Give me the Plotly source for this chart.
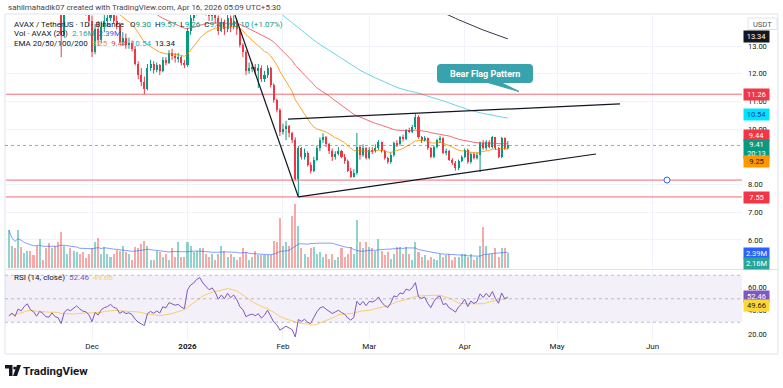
import plotly.graph_objects as go
import pandas as pd

W, H = 783, 388
FONT = "Roboto"

# ---------------- data ----------------
dates = pd.date_range("2025-11-04", "2026-04-15", freq="D")
first_open = 16.0

close_nov = [16.4, 16.7, 16.1, 16.9, 16.6, 17.1, 17.4, 16.5, 16.2, 15.4, 15.9, 15.6, 15.0, 14.9, 15.3, 14.7, 14.5, 13.4, 14.5, 14.8, 14.6, 14.9, 15.1, 14.7, 14.4, 14.3, 13.9]
high_nov = [16.9, 17.2, 16.9, 17.3, 17.1, 17.5, 17.9, 17.5, 16.8, 16.3, 16.2, 16.1, 15.7, 15.4, 15.6, 15.4, 15.0, 14.6, 14.7, 15.2, 15.0, 15.1, 15.5, 15.2, 14.9, 14.6, 14.5]
low_nov = [15.8, 16.1, 15.9, 16.0, 16.3, 16.4, 16.9, 16.3, 15.9, 15.2, 15.3, 15.4, 14.8, 14.5, 14.8, 14.5, 14.2, 12.6, 13.3, 14.3, 14.4, 14.5, 14.8, 14.5, 14.2, 14.1, 13.7]

close_dec = [12.8, 13.6, 13.2, 13.7, 13.9, 14.0, 14.2, 13.9, 13.75, 13.15, 13.3, 13.05, 13.1, 12.9, 12.35, 11.95, 11.7, 11.45, 12.2, 12.35, 12.15, 12.3, 12.1, 12.5, 12.4, 12.75, 12.65, 12.55, 12.6, 12.4, 12.3]
high_dec = [14.1, 13.8, 13.9, 13.9, 14.2, 14.3, 14.5, 14.4, 14.1, 13.85, 13.5, 13.45, 13.3, 13.2, 13.0, 12.45, 12.2, 11.9, 12.35, 12.5, 12.45, 12.4, 12.35, 12.6, 12.6, 12.85, 12.9, 12.75, 12.75, 12.65, 12.5]
low_dec = [12.6, 12.7, 13.0, 13.1, 13.5, 13.7, 13.9, 13.8, 13.6, 13.1, 13.0, 12.9, 12.9, 12.8, 12.3, 11.8, 11.55, 11.26, 11.4, 12.1, 12.0, 12.05, 11.95, 12.05, 12.3, 12.35, 12.5, 12.4, 12.4, 12.3, 12.2]

close_jan = [13.55, 14.0, 14.2, 14.6, 14.8, 14.5, 14.3, 14.1, 14.25, 14.0, 13.55, 13.85, 13.6, 14.0, 13.7, 13.9, 13.6, 13.05, 12.8, 12.1, 12.2, 12.25, 12.1, 12.2, 11.8, 11.95, 12.2, 11.6, 11.05, 10.7, 9.9]
high_jan = [13.65, 14.2, 14.4, 14.8, 15.0, 14.9, 14.6, 14.4, 14.4, 14.3, 14.1, 14.0, 13.95, 14.2, 14.1, 14.1, 14.0, 13.65, 13.1, 12.85, 12.4, 12.4, 12.35, 12.35, 12.3, 12.1, 12.3, 12.25, 11.65, 11.1, 10.75]
low_jan = [12.25, 13.4, 13.9, 14.1, 14.5, 14.3, 14.1, 13.9, 13.9, 13.8, 13.4, 13.5, 13.4, 13.5, 13.5, 13.6, 13.4, 12.95, 12.6, 11.95, 12.0, 12.05, 11.95, 11.48, 11.7, 11.7, 11.85, 11.5, 10.95, 10.6, 9.75]

close_feb = [10.0, 10.1, 9.85, 9.6, 8.2, 9.3, 9.0, 9.15, 8.7, 8.5, 8.9, 9.3, 9.6, 9.7, 9.45, 9.2, 9.0, 9.1, 9.2, 9.0, 8.85, 8.5, 8.27, 8.4, 9.35, 9.05, 9.3, 8.96]
high_feb = [10.2, 10.3, 10.15, 9.9, 9.7, 9.4, 9.35, 9.3, 9.2, 8.8, 9.0, 9.4, 9.7, 9.85, 9.75, 9.5, 9.3, 9.2, 9.35, 9.25, 9.1, 8.9, 8.6, 8.55, 9.86, 9.4, 9.45, 9.35]
low_feb = [9.8, 9.6, 9.7, 9.5, 8.15, 7.55, 8.9, 8.9, 8.65, 8.4, 8.45, 8.85, 9.2, 9.5, 9.35, 9.1, 8.85, 8.9, 9.05, 8.95, 8.75, 8.45, 8.24, 8.25, 8.35, 8.9, 9.0, 8.9]

close_mar = [9.25, 9.2, 9.3, 9.53, 9.2, 8.95, 8.8, 9.05, 9.5, 9.45, 9.7, 9.65, 9.97, 9.9, 10.08, 10.45, 9.7, 9.6, 9.68, 9.3, 9.0, 9.35, 9.6, 9.68, 9.15, 9.2, 8.9, 8.78, 8.6, 8.85, 9.0]
high_mar = [9.35, 9.35, 9.45, 9.6, 9.55, 9.25, 9.0, 9.15, 9.55, 9.6, 9.75, 9.8, 10.0, 10.05, 10.15, 10.55, 10.5, 9.75, 9.75, 9.7, 9.35, 9.4, 9.65, 9.75, 9.7, 9.3, 9.25, 8.95, 8.85, 8.9, 9.05]
low_mar = [8.9, 9.1, 9.15, 9.25, 9.15, 8.9, 8.75, 8.75, 9.0, 9.35, 9.4, 9.55, 9.6, 9.85, 9.85, 10.0, 9.65, 9.5, 9.55, 9.25, 8.95, 8.95, 9.3, 9.5, 9.1, 9.05, 8.85, 8.7, 8.5, 8.52, 8.8]

close_apr = [9.25, 8.8, 9.1, 8.95, 9.05, 9.5, 9.3, 9.55, 9.35, 9.7, 9.3, 9.0, 9.68, 9.30, 9.41]
high_apr = [9.3, 9.3, 9.15, 9.15, 9.15, 9.55, 9.6, 9.6, 9.6, 9.75, 9.72, 9.35, 9.72, 9.7, 9.57]
low_apr = [8.95, 8.75, 8.75, 8.9, 8.9, 8.45, 9.25, 9.25, 9.3, 9.3, 9.25, 8.95, 8.95, 9.25, 9.26]

volume_m = [5.4, 3.2, 2.8, 5.4, 3.0, 2.1, 2.5, 2.4, 1.8, 3.2,
            4.2, 1.2, 2.8, 3.6, 2.8, 3.2, 3.7, 5.2, 3.2, 2.0,
            2.8, 2.4, 2.3, 2.0, 2.3, 1.5, 2.0, 2.8, 3.7, 4.3,
            2.0, 3.0, 2.0, 1.6, 2.0, 2.6, 2.5, 3.2, 2.3, 2.0,
            1.2, 3.0, 2.8, 3.5, 3.9, 3.2, 1.1, 1.2, 2.5, 2.3,
            1.6, 2.0, 1.2, 2.8, 1.6, 3.7, 1.6, 1.6, 3.7, 3.2,
            2.3, 2.5, 2.8, 2.8, 2.0, 1.6, 2.0, 1.1, 2.0, 3.2,
            2.4, 1.6, 2.0, 1.6, 1.1, 1.6, 2.8, 2.3, 1.1, 1.6,
            2.5, 1.8, 1.8, 1.8, 1.8, 1.8, 3.9, 3.7, 7.1, 3.2,
            3.7, 3.2, 7.5, 9.1, 6.0, 2.8, 2.0, 1.6, 2.8, 3.0,
            2.0, 2.3, 1.6, 2.0, 1.3, 2.0, 1.1, 1.6, 2.8, 1.6,
            2.0, 3.0, 2.0, 6.8, 3.7, 2.8, 3.7, 3.0, 2.8, 2.5,
            4.2, 2.5, 1.8, 2.3, 1.3, 2.0, 3.0, 3.0, 2.0, 3.0,
            2.0, 1.1, 3.7, 2.3, 1.6, 1.8, 1.1, 1.6, 1.3, 1.1,
            2.0, 1.6, 1.8, 2.0, 1.1, 1.6, 1.6, 2.0, 2.0, 1.6,
            2.0, 1.1, 1.6, 3.2, 5.9, 3.2, 2.0, 2.0, 2.8, 1.6,
            2.8, 2.8, 2.16]

ema_periods = [20, 50, 100, 200]
ema_seeds = [16.8, 17.8, 19.3, 23.7]
ema_colors = ["#ff9800", "#f7525f", "#4dd0e1", "#131722"]
rsi_seed_gain, rsi_seed_loss = 0.20, 0.42

month_ticks = ["2025-12-01", "2026-01-01", "2026-02-01", "2026-03-01", "2026-04-01", "2026-05-01", "2026-06-01"]
month_labels = ["Dec", "<b>2026</b>", "Feb", "Mar", "Apr", "May", "Jun"]
price_ticks = [6, 7, 8, 10, 11, 12, 13]
rsi_ticks = [20, 40, 60]

# drawing tool anchors (date, price)
flagpole = [("2026-01-16 10:00", 14.12), ("2026-02-06 00:00", 7.55)]
flag_top = [("2026-02-02 15:00", 10.36), ("2026-05-21 10:00", 10.91)]
flag_bottom = [("2026-02-06 00:00", 7.55), ("2026-05-13 15:00", 9.10)]
levels = [11.26, 8.16, 7.55]
last_price = 9.41

# ---------------- derived ----------------
close = close_nov + close_dec + close_jan + close_feb + close_mar + close_apr
high = high_nov + high_dec + high_jan + high_feb + high_mar + high_apr
low = low_nov + low_dec + low_jan + low_feb + low_mar + low_apr
assert len(close) == len(dates) == len(high) == len(low) == len(volume_m)
open_ = [first_open] + close[:-1]
up = [c >= o for o, c in zip(open_, close)]


def ema(vals, n, seed):
    a = 2.0 / (n + 1)
    e = seed
    out = []
    for v in vals:
        e = a * v + (1 - a) * e
        out.append(e)
    return out


emas = [ema(close, n, s) for n, s in zip(ema_periods, ema_seeds)]

g, l = rsi_seed_gain, rsi_seed_loss
rsi = []
for o, c in zip(open_, close):
    d = c - o
    g = (g * 13 + max(d, 0)) / 14
    l = (l * 13 + max(-d, 0)) / 14
    rsi.append(100 - 100 / (1 + g / l))
rsi_ma = pd.Series(rsi).rolling(14, min_periods=1).mean().tolist()
vol_ma = pd.Series(volume_m).rolling(20, min_periods=1).mean().tolist()


# ---------------- geometry helpers ----------------
def fx(px):
    return px / W


def fy(py):
    return 1 - py / H


def price_at(py):
    return 13 - (py - 46) / 27.7


def rsi_at(py):
    return 60 - (py - 287) / 1.175


GREEN, RED = "#089981", "#f23645"
DAY = 86400000

fig = go.Figure()

# volume
fig.add_trace(go.Bar(x=dates, y=volume_m, width=0.66 * DAY,
                     marker=dict(color=["rgba(38,166,154,0.5)" if u else "rgba(239,83,80,0.5)" for u in up], line_width=0),
                     xaxis="x", yaxis="y2", hoverinfo="skip"))
fig.add_trace(go.Scatter(x=dates, y=vol_ma, mode="lines", line=dict(color="rgba(41,98,255,0.6)", width=1),
                         xaxis="x", yaxis="y2", hoverinfo="skip"))

# EMAs
for vals, col in zip(emas, ema_colors):
    fig.add_trace(go.Scatter(x=dates, y=vals, mode="lines", line=dict(color=col, width=1),
                             xaxis="x", yaxis="y", hoverinfo="skip", opacity=0.85))

# candles: wicks + bodies
for flag, col in ((True, GREEN), (False, RED)):
    wx, wy = [], []
    bx, bb, bh = [], [], []
    for d, o, h_, l_, c, u in zip(dates, open_, high, low, close, up):
        if u != flag:
            continue
        wx += [d, d, None]
        wy += [l_, h_, None]
        bx.append(d)
        bb.append(min(o, c))
        bh.append(max(abs(c - o), 0.02))
    fig.add_trace(go.Scatter(x=wx, y=wy, mode="lines", line=dict(color=col, width=1),
                             xaxis="x", yaxis="y", hoverinfo="skip"))
    fig.add_trace(go.Bar(x=bx, y=bh, base=bb, width=0.66 * DAY, marker=dict(color=col, line_width=0),
                         xaxis="x", yaxis="y", hoverinfo="skip"))

# RSI
fig.add_trace(go.Scatter(x=dates, y=rsi_ma, mode="lines", line=dict(color="#f9cf6a", width=1),
                         xaxis="x", yaxis="y3", hoverinfo="skip"))
fig.add_trace(go.Scatter(x=dates, y=rsi, mode="lines", line=dict(color="#7e57c2", width=1),
                         xaxis="x", yaxis="y3", hoverinfo="skip"))

shapes = []
# frame & pane divider
shapes.append(dict(type="rect", xref="paper", yref="paper", x0=fx(5), x1=fx(778), y0=fy(354), y1=fy(14),
                   line=dict(color="#e0e3eb", width=1), layer="below"))
shapes.append(dict(type="line", xref="paper", yref="paper", x0=fx(5), x1=fx(778), y0=fy(269.5), y1=fy(269.5),
                   line=dict(color="#e0e3eb", width=1)))
# RSI band
shapes.append(dict(type="rect", xref="paper", yref="y3", x0=fx(5), x1=fx(742), y0=30, y1=70,
                   fillcolor="rgba(126,87,194,0.09)", line_width=0, layer="below"))
for lv in (70, 50, 30):
    shapes.append(dict(type="line", xref="paper", yref="y3", x0=fx(5), x1=fx(742), y0=lv, y1=lv,
                       line=dict(color="rgba(120,123,134,0.45)", width=1, dash="dot")))
# horizontal levels
for lv in levels:
    shapes.append(dict(type="line", xref="paper", yref="y", x0=fx(6), x1=fx(742), y0=lv, y1=lv,
                       line=dict(color="rgba(242,54,69,0.75)", width=1)))
shapes.append(dict(type="circle", xref="paper", yref="y", x0=fx(664), x1=fx(670),
                   y0=levels[1] - 3 / 27.7, y1=levels[1] + 3 / 27.7,
                   fillcolor="white", line=dict(color="#2962ff", width=1)))
# last price dotted
shapes.append(dict(type="line", xref="paper", yref="y", x0=fx(5), x1=fx(742), y0=last_price, y1=last_price,
                   line=dict(color="rgba(8,153,129,0.6)", width=1, dash="dot")))
# pattern lines
for seg in (flagpole, flag_top, flag_bottom):
    shapes.append(dict(type="line", xref="x", yref="y", x0=seg[0][0], y0=seg[0][1], x1=seg[1][0], y1=seg[1][1],
                       line=dict(color="#131722", width=1.2)))
# callout box (rounded) + tail
TEAL = "#38a3ad"
bx0, bx1, by0, by1, r = 437, 533, 64, 83, 4
path = (f"M {fx(bx0+r)},{fy(by0)} L {fx(bx1-r)},{fy(by0)} Q {fx(bx1)},{fy(by0)} {fx(bx1)},{fy(by0+r)} "
        f"L {fx(bx1)},{fy(by1-r)} Q {fx(bx1)},{fy(by1)} {fx(bx1-r)},{fy(by1)} L {fx(bx0+r)},{fy(by1)} "
        f"Q {fx(bx0)},{fy(by1)} {fx(bx0)},{fy(by1-r)} L {fx(bx0)},{fy(by0+r)} Q {fx(bx0)},{fy(by0)} {fx(bx0+r)},{fy(by0)} Z")
shapes.append(dict(type="path", xref="paper", yref="paper", path=path, fillcolor=TEAL, line_width=0))
shapes.append(dict(type="path", xref="paper", yref="paper",
                   path=f"M {fx(486)},{fy(82)} L {fx(500)},{fy(82)} L {fx(519)},{fy(91.5)} Z",
                   fillcolor=TEAL, line=dict(color=TEAL, width=1)))
# USDT box
shapes.append(dict(type="rect", xref="paper", yref="paper", x0=fx(748), x1=fx(777), y0=fy(29.5), y1=fy(18),
                   line=dict(color="#e0e3eb", width=1), fillcolor="white"))
# TradingView logo glyph
shapes.append(dict(type="path", xref="paper", yref="paper",
                   path=f"M {fx(5)},{fy(365)} L {fx(12.5)},{fy(365)} L {fx(12.5)},{fy(376)} L {fx(9)},{fy(376)} L {fx(9)},{fy(368.5)} L {fx(5)},{fy(368.5)} Z",
                   fillcolor="#131722", line_width=0))
shapes.append(dict(type="circle", xref="paper", yref="paper", x0=fx(13.2), x1=fx(16.2), y0=fy(369.5), y1=fy(366.5),
                   fillcolor="#131722", line_width=0))
shapes.append(dict(type="path", xref="paper", yref="paper",
                   path=f"M {fx(17)},{fy(365)} L {fx(21)},{fy(365)} L {fx(17)},{fy(376)} L {fx(13)},{fy(376)} Z",
                   fillcolor="#131722", line_width=0))

ann = []


def txt(x, y, text, size=8, color="#131722", anchor="left", bold=False):
    ann.append(dict(x=fx(x), y=fy(y), xref="paper", yref="paper", text=(f"<b>{text}</b>" if bold else text),
                    showarrow=False, xanchor=anchor, yanchor="middle",
                    font=dict(family=FONT, size=size, color=color)))


def tag(y, text, bg, fg="white", h=9):
    ann.append(dict(x=fx(743), y=fy(y), xref="paper", yref="paper", text=text, showarrow=False,
                    xanchor="left", yanchor="middle", bgcolor=bg, width=23, height=h, borderpad=1,
                    align="center", font=dict(family=FONT, size=7.5, color=fg)))


def span(t, c):
    return f"<span style='color:{c}'>{t}</span>"


S = "&nbsp;"
txt(6, 7, "sahilmahadik07 created with TradingView.com, Apr 16, 2026 05:09 UTC+5:30", 8, "#434651")
txt(12, 24, "AVAX / TetherUS · 1D · Binance" + S * 3 + "O" + span("9.30", GREEN) + S * 2 + "H" + span("9.57", GREEN)
    + S * 2 + "L" + span("9.26", GREEN) + S * 2 + "C" + span("9.41", GREEN) + S * 2 + span("+0.10 (+1.07%)", GREEN), 8)
txt(12, 33.5, "Vol · AVAX (20)" + S * 2 + span("2.16M", "#26a69a") + S * 2 + span("2.39M", "#2962ff"), 8)
txt(12, 43, "EMA 20/50/100/200" + S * 2 + span("9.25", "#ff9800") + S * 2 + span("9.44", "#f23645") + S * 2
    + span("10.54", "#00bcd4") + S * 2 + span("13.34", "#131722"), 8)
txt(12, 277, "RSI (14, close)" + S * 2 + span("52.46", "#7e57c2") + S * 2 + span("49.66", "#f9cf6a"), 8)
txt(762.5, 24, "USDT", 7.5, "#50535e", anchor="center")
txt(485, 73.5, "Bear Flag Pattern", 9, "white", anchor="center", bold=True)
txt(21, 371, "TradingView", 11.5, "#131722", bold=True)

tag(36, "13.34", "#131722")
tag(94, "11.26", "#f23645")
tag(114, "10.54", "#00e5ff", "#0b3d91")
tag(135.5, "9.44", "#f23645")
ann.append(dict(x=fx(743), y=fy(149), xref="paper", yref="paper", text="9.41<br>20:13", showarrow=False,
                xanchor="left", yanchor="middle", bgcolor=GREEN, width=23, height=16, borderpad=1,
                align="center", font=dict(family=FONT, size=7.5, color="white")))
tag(161.5, "9.25", "#ff9800", "#131722")
tag(197, "7.55", "#f23645")
tag(253, "2.39M", "#2962ff")
tag(263, "2.16M", "#26a69a")
tag(296, "52.46", "#7e57c2")
tag(305.5, "49.66", "#fdd835", "#131722")

GRID = "#f0f3fa"
fig.update_layout(
    width=W, height=H, margin=dict(l=0, r=0, t=0, b=0),
    paper_bgcolor="white", plot_bgcolor="white",
    showlegend=False, barmode="overlay", bargap=0,
    font=dict(family=FONT, size=8, color="#131722"),
    xaxis=dict(domain=[fx(5), fx(742)], type="date", range=["2025-11-02 18:00", "2026-06-30 01:00"],
               anchor="y3", tickvals=month_ticks, ticktext=month_labels, tickfont=dict(size=8, color="#131722"),
               showgrid=True, gridcolor=GRID, gridwidth=1, zeroline=False, showline=False, ticks="",
               fixedrange=True),
    yaxis=dict(domain=[fy(268), fy(15)], range=[price_at(268), price_at(15)], side="right", anchor="x",
               tickvals=price_ticks, ticktext=[f"{v:.2f}" for v in price_ticks],
               tickfont=dict(size=7.5, color="#131722"), showgrid=True, gridcolor=GRID, zeroline=False,
               showline=False, ticks="", ticklabelstandoff=5),
    yaxis2=dict(overlaying="y", range=[0, 253 / 7.0], visible=False, showgrid=False),
    yaxis3=dict(domain=[fy(340), fy(270)], range=[rsi_at(340), rsi_at(270)], side="right", anchor="x",
                tickvals=rsi_ticks, ticktext=[f"{v:.2f}" for v in rsi_ticks],
                tickfont=dict(size=7.5, color="#131722"), showgrid=False, zeroline=False, showline=False,
                ticks="", ticklabelstandoff=5),
    shapes=shapes, annotations=ann,
)

fig.write_html("out.html", config={"displayModeBar": False},
               post_script="document.body.style.margin='0';document.body.style.padding='0';")
